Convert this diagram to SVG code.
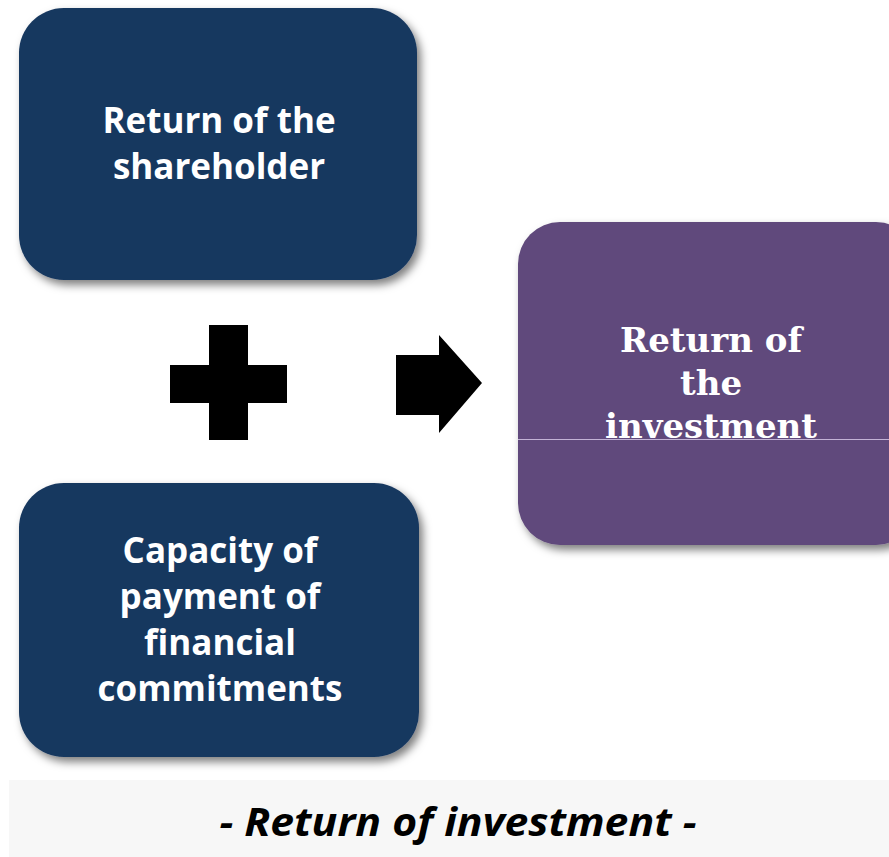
<svg xmlns="http://www.w3.org/2000/svg" width="889" height="857" viewBox="0 0 889 857">
<defs>
<filter id="sh" x="-10%" y="-10%" width="125%" height="130%">
<feDropShadow dx="4" dy="5" stdDeviation="4" flood-color="#000" flood-opacity="0.5"/>
</filter>
<style>
.navy{fill:#17375e;filter:url(#sh)}
.purple{fill:#604a7b;filter:url(#sh)}
.t{font-family:"Open Sans","DejaVu Sans",sans-serif;font-weight:bold;font-size:35px;fill:#fff;text-anchor:middle}
.ts{font-family:"DejaVu Serif","Liberation Serif",serif;font-weight:bold;font-size:34px;fill:#fff;text-anchor:middle}
.cap{font-family:"Open Sans","Liberation Sans",sans-serif;font-weight:bold;font-style:italic;font-size:40px;fill:#000;text-anchor:middle}
</style>
</defs>
<rect width="889" height="857" fill="#fff"/>
<g id="shareholder">
<rect class="navy" x="19" y="8" width="398" height="272" rx="45"/>
<text class="t" x="219" y="133">Return of the</text>
<text class="t" x="219" y="179">shareholder</text>
</g>
<g id="capacity">
<rect class="navy" x="19" y="483" width="400" height="274" rx="45"/>
<text class="t" x="220" y="563">Capacity of</text>
<text class="t" x="220" y="609">payment of</text>
<text class="t" x="220" y="655">financial</text>
<text class="t" x="220" y="701">commitments</text>
</g>
<g id="investment">
<rect class="purple" x="518" y="222" width="400" height="323" rx="42"/>
<text class="ts" x="711" y="352">Return of</text>
<text class="ts" x="711" y="395">the</text>
<text class="ts" x="711" y="438">investment</text>
<line x1="518" y1="439.5" x2="889" y2="439.5" stroke="#c3b3d6" stroke-width="1"/>
</g>
<g id="connectors">
<path id="plus" d="M209 325H248V365H287V403H248V440H209V403H170V365H209Z" fill="#000"/>
<path id="arrow" d="M396 355H439V335L482 383L439 433V415H396Z" fill="#000"/>
</g>
<g id="caption">
<rect x="9" y="780" width="880" height="77" fill="#f7f7f7"/>
<text class="cap" x="458" y="836" textLength="477" lengthAdjust="spacingAndGlyphs">- Return of investment -</text>
</g>
</svg>
